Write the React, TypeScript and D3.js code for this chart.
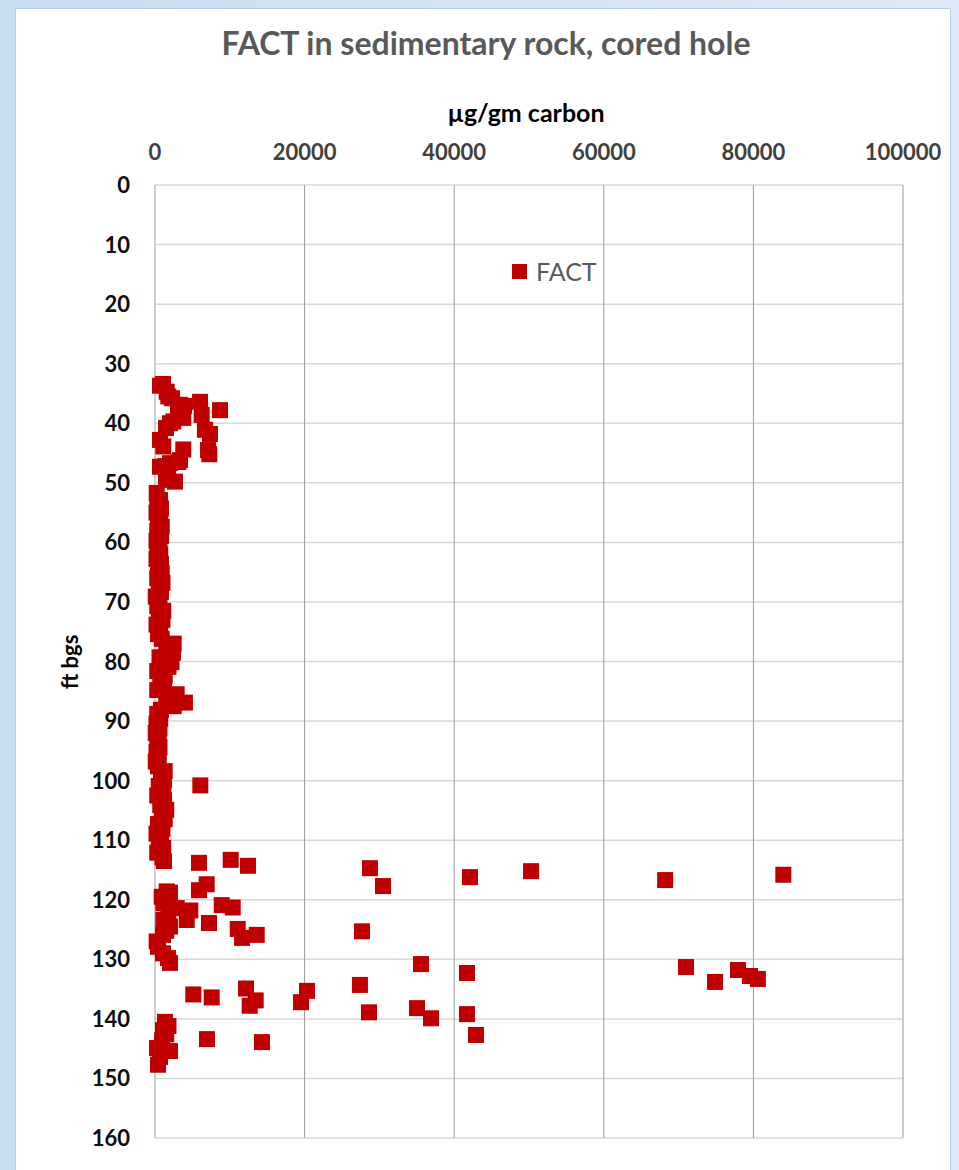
import React from "react";
import * as d3 from "d3";

const TITLE = "FACT in sedimentary rock, cored hole";
const X_TITLE = "µg/gm carbon";
const Y_TITLE = "ft bgs";
const SERIES = "FACT";
const X_TICKS = [0, 20000, 40000, 60000, 80000, 100000];
const Y_TICKS = [0, 10, 20, 30, 40, 50, 60, 70, 80, 90, 100, 110, 120, 130, 140, 150, 160];

// depth (ft bgs) and FACT concentration (µg/gm carbon)
const depth = [
  33.7, 33.4, 34.7, 35.5, 35.8, 36.9, 37.1, 36.4, 37.8, 38.6, 38.3, 39.1, 39.7, 40.0, 40.8, 41.1, 41.8,
  42.8, 43.9, 44.4, 44.5, 45.2, 46.2, 46.5, 46.7, 47.2, 47.3, 48.7, 49.5, 49.8, 51.7, 52.9,
  53.5, 54.3, 55.0, 55.8, 56.6, 57.4, 58.1, 58.9, 59.7, 60.5, 61.3, 62.0, 62.8, 63.6, 64.4, 65.2,
  66.0, 66.8, 67.5, 68.3, 69.1, 69.9, 70.7, 71.5, 72.2, 73.0, 73.8, 74.6, 75.4, 76.2, 77.0, 77.7,
  78.5, 79.3, 80.1, 80.9, 81.6, 82.4, 83.2, 84.0, 84.8, 85.5, 86.3, 86.9, 87.5, 88.1, 88.8, 89.6,
  90.4, 91.2, 92.0, 92.8, 93.6, 94.4, 95.2, 96.0, 96.8, 97.6, 98.4, 99.2, 100.0, 100.8, 100.9, 101.7,
  102.5, 103.3, 104.1, 104.9, 105.7, 106.5, 107.3, 108.1, 108.9, 109.7, 110.5, 111.3, 112.1, 112.9, 113.5,
  113.8, 113.3, 114.3, 117.4, 118.4, 118.8, 118.6, 119.5, 120.6, 120.9, 121.3, 121.4, 121.8, 122.3,
  123.4, 123.4, 123.9, 124.5, 124.9, 125.2, 125.9, 125.9, 126.4, 127.0, 127.9, 129.0, 129.8, 130.6,
  140.5, 141.2, 141.9, 142.6, 143.6, 144.9, 145.4, 146.4, 147.7,
  135.9, 136.4, 134.9, 136.9, 137.8, 143.4, 143.9,
  114.7, 117.7, 116.2, 115.2, 125.3, 130.8, 132.3, 135.3, 137.2, 134.3, 138.9, 138.2, 139.9, 139.2, 142.7,
  116.7, 115.8, 131.3, 133.8, 131.8, 132.8, 133.3,
];
const fact = [
  670, 1070, 1560, 1780, 2270, 3340, 3880, 6020, 8690, 6240, 3070, 3780, 2450, 2000, 1470, 6680, 7350,
  670, 1110, 3780, 7090, 7260, 3340, 3120, 2010, 1340, 670, 1740, 1470, 2670, 230, 670,
  300, 800, 200, 700, 400, 900, 300, 800, 200, 600, 300, 700, 200, 800, 400, 900,
  300, 1000, 500, 800, 100, 600, 300, 1100, 500, 1000, 200, 700, 400, 900, 2500, 1500,
  2400, 600, 2200, 1800, 300, 1300, 700, 1200, 300, 2900, 1500, 4000, 2500, 800, 300, 700,
  200, 600, 100, 500, 300, 600, 200, 500, 100, 400, 1300, 800, 1200, 6060, 500, 1100,
  300, 1200, 700, 1500, 900, 1300, 400, 1000, 200, 800, 500, 1100, 300, 1000, 1200,
  5880, 10120, 12430, 6910, 5880, 2000, 1560, 900, 1110, 8920, 10390, 2900, 4720, 1780,
  1110, 4240, 7220, 2000, 11060, 1500, 1070, 13600, 11630, 220, 400, 1070, 1740, 2000,
  1340, 1800, 1070, 1500, 940, 270, 2000, 670, 400,
  5120, 7580, 12170, 13460, 12660, 6950, 14300,
  28740, 30480, 42110, 50270, 27670, 35560, 41710, 20320, 19520, 27400, 28610, 35030, 36900, 41710, 42910,
  68200, 84000, 70990, 74870, 77940, 79550, 80600,
];

const W = 959;
const H = 1170;
const FONT = "Lato, 'Open Sans', sans-serif";

export default function App() {
  const x = d3.scaleLinear().domain([0, 100000]).range([155, 903]);
  const y = d3.scaleLinear().domain([0, 160]).range([185, 1138]);
  const s = 16;
  const points = depth.map((d, i) => ({ d, v: fact[i] }));

  return (
    <svg width={W} height={H} style={{ position: "absolute", left: 0, top: 0 }} fontFamily={FONT}>
      <defs>
        <linearGradient id="bgL" x1="0" x2="1" y1="0" y2="0">
          <stop offset="0" stopColor="#c9ddf1" />
          <stop offset="1" stopColor="#dde9f6" />
        </linearGradient>
      </defs>
      <rect x={0} y={0} width={W} height={H} fill="url(#bgL)" />
      <rect x={15.5} y={8.5} width={935} height={H} fill="#ffffff" stroke="#b9cfe6" strokeWidth={1} />

      <text x={486} y={55} textAnchor="middle" fontSize={32} fontWeight="bold" fill="#595959">
        {TITLE}
      </text>
      <text x={526} y={122} textAnchor="middle" fontSize={25} fontWeight="bold" fill="#000000">
        {X_TITLE}
      </text>

      {/* horizontal gridlines */}
      {Y_TICKS.map((t) => (
        <line key={"h" + t} x1={x(0)} x2={x(100000)} y1={y(t)} y2={y(t)} stroke="#d9d9d9" strokeWidth={1.5} />
      ))}
      {/* vertical gridlines */}
      {X_TICKS.slice(1).map((t) => (
        <line key={"v" + t} x1={x(t)} x2={x(t)} y1={y(0)} y2={y(160)} stroke="#9a9a9a" strokeWidth={1} />
      ))}
      <line x1={x(0)} x2={x(0)} y1={y(0)} y2={y(160)} stroke="#bfbfbf" strokeWidth={1.5} />

      {/* x tick labels (top) */}
      {X_TICKS.map((t) => (
        <text key={"xt" + t} x={x(t)} y={160} textAnchor="middle" fontSize={22} fontWeight="bold" fill="#404040">
          {t}
        </text>
      ))}
      {/* y tick labels */}
      {Y_TICKS.map((t) => (
        <text key={"yt" + t} x={130} y={y(t) + 8} textAnchor="end" fontSize={22} fontWeight="bold" fill="#0d0d0d">
          {t}
        </text>
      ))}
      <text
        transform={`translate(${78},${662}) rotate(-90)`}
        textAnchor="middle"
        fontSize={22}
        fontWeight="bold"
        fill="#000000"
      >
        {Y_TITLE}
      </text>

      {/* points */}
      {points.map((p, i) => (
        <rect key={i} x={x(p.v) - s / 2} y={y(p.d) - s / 2} width={s} height={s} fill="#c00000" />
      ))}

      {/* legend */}
      <rect x={512} y={264} width={15} height={15} fill="#c00000" />
      <text x={536} y={281} fontSize={25} fill="#595959">
        {SERIES}
      </text>
    </svg>
  );
}
